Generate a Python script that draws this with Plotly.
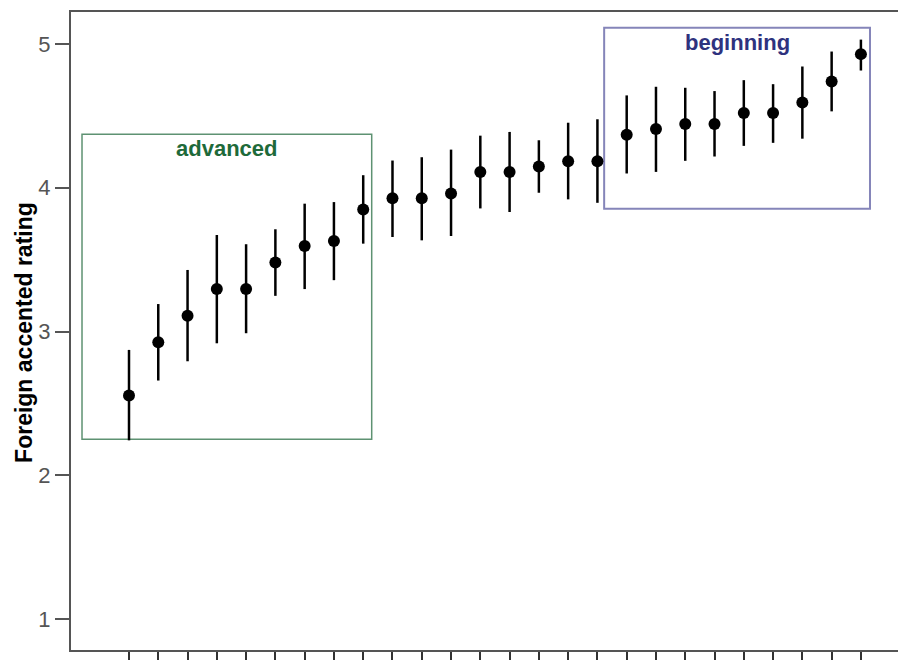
import plotly.graph_objects as go

positions = list(range(1, 27))
means = [2.555, 2.925, 3.110, 3.295, 3.295, 3.480, 3.595, 3.630, 3.849, 3.926,
         3.926, 3.960, 4.110, 4.110, 4.147, 4.184, 4.184, 4.369, 4.409, 4.443,
         4.443, 4.519, 4.519, 4.593, 4.739, 4.929]
upper = [2.872, 3.191, 3.428, 3.671, 3.607, 3.711, 3.889, 3.900, 4.087, 4.189,
         4.212, 4.265, 4.362, 4.388, 4.330, 4.452, 4.476, 4.642, 4.702, 4.695,
         4.672, 4.748, 4.720, 4.843, 4.947, 5.030]
lower = [2.243, 2.659, 2.793, 2.918, 2.988, 3.248, 3.295, 3.357, 3.611, 3.657,
         3.634, 3.664, 3.856, 3.831, 3.965, 3.919, 3.895, 4.099, 4.110, 4.187,
         4.217, 4.291, 4.312, 4.341, 4.531, 4.815]
y_ticks = [1, 2, 3, 4, 5]
y_title = "Foreign accented rating"
group_labels = ["advanced", "beginning"]

err_plus = [u - m for u, m in zip(upper, means)]
err_minus = [m - l for m, l in zip(means, lower)]

fig = go.Figure()
fig.add_trace(go.Scatter(
    x=positions, y=means, mode="markers",
    marker=dict(color="black", size=12),
    error_y=dict(type="data", symmetric=False, array=err_plus, arrayminus=err_minus,
                 color="black", thickness=2.5, width=0),
    showlegend=False,
))

# group boxes
fig.add_shape(type="rect", x0=-0.605, x1=9.29, y0=2.25, y1=4.372,
              line=dict(color="#5e9272", width=1.5), layer="below")
fig.add_shape(type="rect", x0=17.23, x1=26.31, y0=3.854, y1=5.113,
              line=dict(color="#8585b9", width=2), layer="below")

fig.add_annotation(x=(-0.605 + 9.29) / 2, y=4.27, xref="x", yref="y",
                   text="<b>" + group_labels[0] + "</b>", showarrow=False,
                   font=dict(family="Liberation Sans, Arial", size=22, color="#1e6a3a"))
fig.add_annotation(x=(17.23 + 26.31) / 2, y=5.01, xref="x", yref="y",
                   text="<b>" + group_labels[1] + "</b>", showarrow=False,
                   font=dict(family="Liberation Sans, Arial", size=22, color="#2e327e"))

fig.add_annotation(x=(16 - 63) / 835, y=0.497, xref="paper", yref="paper",
                   text="<b>" + y_title + "</b>", textangle=-90, showarrow=False,
                   xanchor="center", yanchor="middle",
                   font=dict(family="Liberation Sans, Arial", size=23, color="black"))

fig.update_layout(
    width=898, height=652,
    margin=dict(l=63, r=0, t=4, b=8),
    plot_bgcolor="white", paper_bgcolor="white",
    xaxis=dict(range=[-0.981, 27.54], tickvals=positions, showticklabels=False,
               ticks="outside", ticklen=10, tickwidth=2, tickcolor="#333",
               showline=True, linecolor="#555", linewidth=2, mirror=True,
               showgrid=False, zeroline=False),
    yaxis=dict(range=[0.785, 5.222], tickvals=y_ticks,
               ticks="outside", ticklen=14, tickwidth=2, tickcolor="#555",
               tickfont=dict(family="Liberation Sans, Arial", size=22, color="#555"),
               showline=True, linecolor="#555", linewidth=2,
               showgrid=False, zeroline=False),
)

fig.write_html("out.html")
